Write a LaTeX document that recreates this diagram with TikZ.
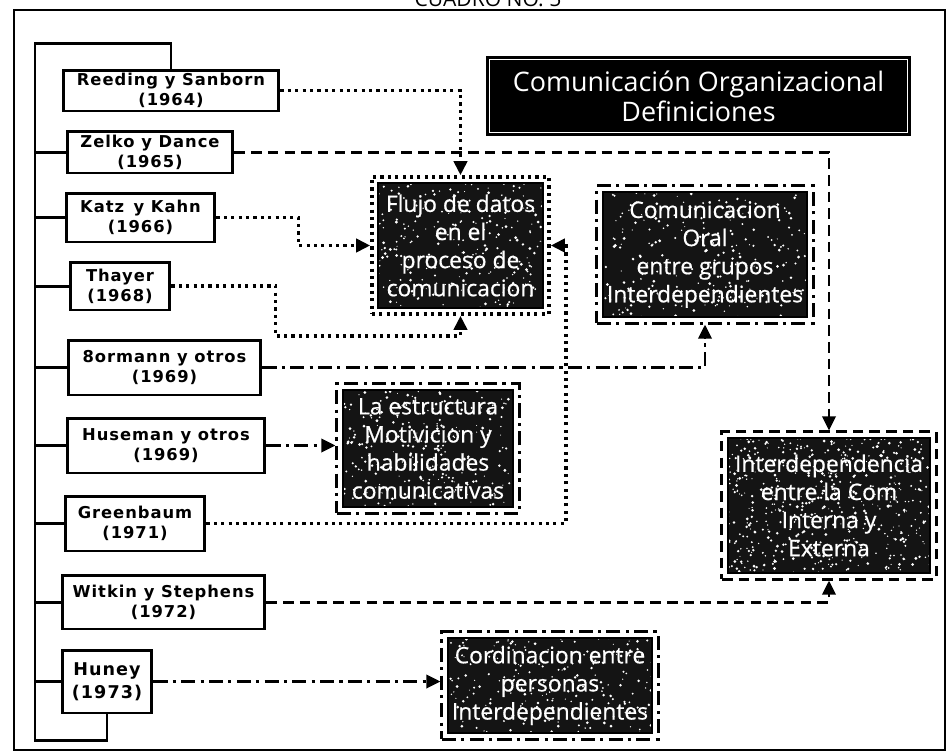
\documentclass[tikz,border=0pt]{standalone}
\usepackage{fontspec}
\setmainfont{Open Sans}
\newfontfamily\boxfont[FakeBold=0.6]{Open Sans}
\newfontfamily\labfont[LetterSpace=6]{DejaVu Sans}
\usetikzlibrary{arrows.meta,fit,calc}
\begin{document}
\begin{tikzpicture}[x=0.02cm,y=-0.02cm,
  lab/.style={draw, line width=1.7pt, align=center, inner sep=0pt,
    font=\labfont\bfseries\fontsize{9.3}{11.5}\selectfont},
  speckle/.style={path picture={
    \foreach \k in {1,...,#1}{
      \fill[white] let \p1=(path picture bounding box.south west),
                       \p2=(path picture bounding box.north east) in
        ({\x1+rnd*(\x2-\x1)},{\y1+rnd*(\y2-\y1)}) circle[radius={(0.3+0.6*rnd)*1pt}];
    }}},
  darkbox/.style={draw, line width=0.9pt, fill=black!92, text=white, align=center,
    inner sep=0pt, font=\boxfont\fontsize{13}{16}\selectfont, speckle=#1},
  darkbox/.default=240,
  titlebox/.style={draw, line width=1pt, fill=black, text=white, align=center,
    inner sep=0pt, font=\fontsize{15.3}{17}\selectfont},
  dotline/.style={line width=2pt, dash pattern=on 1.8pt off 2.4pt},
  dashline/.style={line width=1.7pt, dash pattern=on 6pt off 3.5pt},
  dashdotline/.style={line width=1.7pt, dash pattern=on 8pt off 3pt on 1.8pt off 3pt},
  frameline/.style={fit=#1, inner sep=3pt},
  tip/.style={-{Triangle[length=8pt,width=7.5pt]}},
  bracket/.style={line width=1.7pt}
]
\useasboundingbox (0,0) rectangle (948,755);
\pgfmathsetseed{4217}

% page heading and outer frame
\node[font=\fontsize{12}{14}\selectfont, anchor=base] (cuadro) at (488,6) {CUADRO NO. 5};
\draw[line width=1.4pt] (14,10) rectangle (945,750);

% title
\node[titlebox, minimum width=8.46cm, minimum height=1.56cm] (title) at (698.5,96)
  {Comunicación Organizacional\\Definiciones};
\draw[white, line width=0.6pt] ([shift={(3,3)}]title.north west) rectangle ([shift={(-3,-3)}]title.south east);

% authors
\node[lab, minimum width=4.32cm, minimum height=0.82cm] (reed) at (171,90.5) {Reeding y Sanborn\\(1964)};
\node[lab, minimum width=3.32cm, minimum height=0.84cm] (zelk) at (150,152) {Zelko y Dance\\(1965)};
\node[lab, minimum width=2.98cm, minimum height=0.98cm] (katz) at (140.5,217.5) {Katz\, y Kahn\\(1966)};
\node[lab, minimum width=2.00cm, minimum height=0.96cm] (thay) at (120,286) {Thayer\\(1968)};
\node[lab, minimum width=3.86cm, minimum height=1.10cm] (borm) at (164.5,367.5) {8ormann y otros\\(1969)};
\node[lab, minimum width=3.96cm, minimum height=1.10cm] (huse) at (166,445.5) {Huseman y otros\\(1969)};
\node[lab, minimum width=2.80cm, minimum height=1.10cm] (gree) at (135,523.5) {Greenbaum\\(1971)};
\node[lab, minimum width=4.06cm, minimum height=1.08cm] (witk) at (163.5,602) {Witkin y Stephens\\(1972)};
\node[lab, minimum width=1.80cm, minimum height=1.26cm,
  font=\labfont\bfseries\fontsize{10}{13}\selectfont] (huny) at (107,681.5) {Huney\\(1973)};

% bracket joining the authors
\coordinate (brTop) at (35,43);
\coordinate (brBot) at (35,740);
\draw[bracket] (reed.north) |- (brTop) -- (brBot) -| (huny.south);
\foreach \n in {zelk,katz,thay,borm,huse,gree,witk,huny}
  \draw[bracket] (\n.west) -- (\n.west -| brTop);

% definitions
\node[darkbox, minimum width=3.30cm, minimum height=2.50cm] (flujo) at (460.5,245.5)
  {Flujo de datos\\en el\\proceso de\\comunicacion};
\node[darkbox, minimum width=4.08cm, minimum height=2.50cm] (oral) at (705,254.5)
  {Comunicacion\\Oral\\entre grupos\\Interdependientes};
\node[darkbox, minimum width=3.40cm, minimum height=2.34cm] (estr) at (428,448.5)
  {La estructura\\Motivicion y\\habilidades\\comunicativas};
\node[darkbox=520, minimum width=4.04cm, minimum height=2.70cm] (inter) at (829,505.5)
  {Interdependencia\\entre la Com\\Interna y\\Externa};
\node[darkbox=200, minimum width=4.08cm, minimum height=1.90cm] (cord) at (550,685.5)
  {Cordinacion entre\\personas\\Interdependientes};

% broken frames around the definitions
\node[frameline=(flujo), draw, dotline] (flujoF) {};
\node[frameline=(oral), draw, dashdotline] (oralF) {};
\node[frameline=(estr), draw, dashdotline] (estrF) {};
\node[frameline=(inter), draw, dashline] (interF) {};
\node[frameline=(cord), draw, dashdotline] (cordF) {};

% connectors
\draw[dotline, tip] (reed.east) -| (flujoF.north);
\draw[dashline, tip] (zelk.east) -| (interF.north);
\draw[dotline, tip] (katz.east) -- ++(82,0) |- (flujoF.west);
\draw[dotline, tip] (thay.east) -- ++(104,0) |- ($(flujoF.south)+(0,20)$) -- (flujoF.south);
\draw[dashdotline, tip] (borm.east) -| (oralF.south);
\draw[dashdotline, tip] (huse.east) -- (huse.east -| estrF.west);
\draw[dotline, tip] (gree.east) -| ($(flujoF.east)+(15,0)$) -- (flujoF.east);
\draw[dashline, tip] (witk.east) -| (interF.south);
\draw[dashdotline, tip] (huny.east) -- (huny.east -| cordF.west);
\end{tikzpicture}
\end{document}
